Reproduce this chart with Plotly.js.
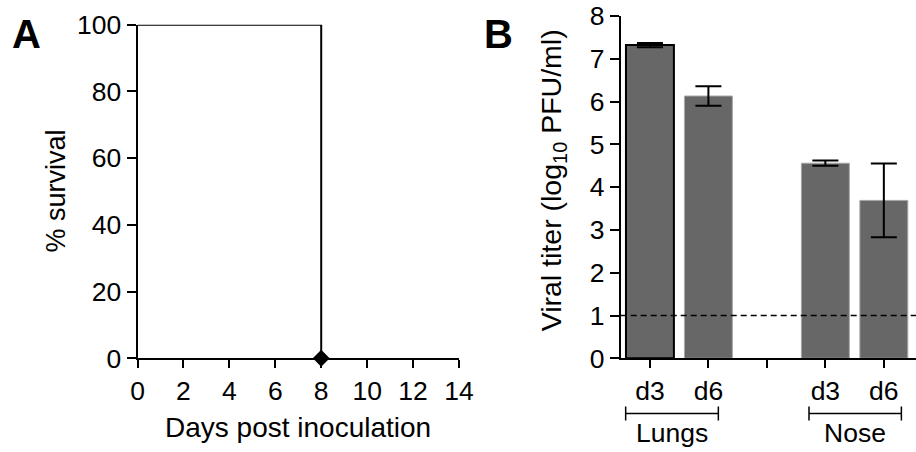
<!DOCTYPE html>
<html>
<head>
<meta charset="utf-8">
<script src="https://cdn.plot.ly/plotly-3.0.1.min.js"></script>
<style>html,body{margin:0;padding:0;background:#fff;}#chart{width:916px;height:452px;}</style>
</head>
<body>
<div id="chart"></div>
<script>
// Panel A: survival
const survivalDays = [0, 8];
const survivalPct = [100, 0];
const deathDay = [8];
const deathPct = [0];
const survivalTicks = [0, 2, 4, 6, 8, 10, 12, 14];
const survivalYTicks = [0, 20, 40, 60, 80, 100];

// Panel B: viral titer
const titerPositions = [0, 1, 3, 4];
const titerMeans = [7.32, 6.13, 4.56, 3.69];
const titerErrors = [0.05, 0.23, 0.06, 0.86];
const titerTickLabels = ['d3', 'd6', 'd3', 'd6'];
const gapTickPosition = [2];
const groupNames = ['Lungs', 'Nose'];
const groupSpans = [[-0.415, 1.17], [2.72, 4.30]];
const detectionLimit = 1;

const FONT = 'Liberation Sans, Arial, sans-serif';
const FS = 26.5;
const TFS = 28;

const traces = [
  {
    x: survivalDays, y: survivalPct, type: 'scatter', mode: 'lines',
    line: {shape: 'hv', color: '#000', width: 2},
    xaxis: 'x', yaxis: 'y', hoverinfo: 'skip', cliponaxis: false
  },
  {
    x: deathDay, y: deathPct, type: 'scatter', mode: 'markers',
    marker: {symbol: 'diamond', size: 13, color: '#000'},
    xaxis: 'x', yaxis: 'y', cliponaxis: false
  },
  {
    x: titerPositions, y: titerMeans, type: 'bar', width: 0.82,
    marker: {color: '#676767', line: {color: ['#000', '#a8a8a8', '#a8a8a8', '#a8a8a8'], width: [2, 1, 1, 1]}},
    error_y: {type: 'data', array: titerErrors, visible: true, color: '#000', thickness: 2, width: 13},
    xaxis: 'x2', yaxis: 'y2'
  }
];

const axisCommon = {
  showgrid: false, zeroline: false, showline: true, linecolor: '#000', linewidth: 2,
  ticks: 'outside', ticklen: 9, tickwidth: 2, tickcolor: '#000',
  tickfont: {family: FONT, size: FS, color: '#000'}, fixedrange: true
};

const shapes = [
  {type: 'line', xref: 'x2 domain', yref: 'y2', x0: 0, x1: 1, y0: detectionLimit, y1: detectionLimit,
   line: {color: '#000', width: 1.5, dash: '6px,4px'}}
];
const annotations = [
  {text: '<b>A</b>', xref: 'paper', yref: 'paper', x: 10 / 916, y: 1 - 34 / 452, xanchor: 'left', yanchor: 'middle', showarrow: false, font: {family: FONT, size: 40, color: '#000'}},
  {text: '<b>B</b>', xref: 'paper', yref: 'paper', x: 482 / 916, y: 1 - 34 / 452, xanchor: 'left', yanchor: 'middle', showarrow: false, font: {family: FONT, size: 40, color: '#000'}},
  {text: 'Days post inoculation', xref: 'x domain', yref: 'paper', x: 0.5, y: 1 - 427 / 452, xanchor: 'center', yanchor: 'middle', showarrow: false, font: {family: FONT, size: TFS, color: '#000'}},
  {text: '% survival', xref: 'paper', yref: 'y domain', x: 55 / 916, y: 0.5, xanchor: 'center', yanchor: 'middle', textangle: -90, showarrow: false, font: {family: FONT, size: 27, color: '#000'}},
  {text: 'Viral titer (log<sub>10</sub> PFU/ml)', xref: 'paper', yref: 'y2 domain', x: 553 / 916, y: 0.52, xanchor: 'center', yanchor: 'middle', textangle: -90, showarrow: false, font: {family: FONT, size: 28.5, color: '#000'}}
];
groupNames.forEach((name, i) => {
  const [a, b] = groupSpans[i];
  const yb = 1 - 413.5 / 452, yt = 1 - 406.5 / 452, ybt = 1 - 420.5 / 452;
  shapes.push({type: 'line', xref: 'x2', yref: 'paper', x0: a, x1: b, y0: yb, y1: yb, line: {color: '#000', width: 1.5}});
  shapes.push({type: 'line', xref: 'x2', yref: 'paper', x0: a, x1: a, y0: yt, y1: ybt, line: {color: '#000', width: 1.5}});
  shapes.push({type: 'line', xref: 'x2', yref: 'paper', x0: b, x1: b, y0: yt, y1: ybt, line: {color: '#000', width: 1.5}});
  annotations.push({text: name, xref: 'x2', yref: 'paper', x: (a + b) / 2, y: 1 - 433 / 452, xanchor: 'center', yanchor: 'middle', showarrow: false, font: {family: FONT, size: FS, color: '#000'}});
});

const layout = {
  width: 916, height: 452,
  margin: {l: 0, r: 0, t: 0, b: 0},
  paper_bgcolor: '#fff', plot_bgcolor: 'rgba(0,0,0,0)',
  showlegend: false,
  xaxis: Object.assign({}, axisCommon, {domain: [137.5 / 916, 459 / 916], range: [0, 14], tickvals: survivalTicks, ticklen: 8, anchor: 'y'}),
  yaxis: Object.assign({}, axisCommon, {domain: [1 - 358.3 / 452, 1 - 24.7 / 452], range: [0, 100], tickvals: survivalYTicks, anchor: 'x'}),
  xaxis2: Object.assign({}, axisCommon, {domain: [620.7 / 916, 1], range: [-0.5, 4.55], tickvals: titerPositions, ticktext: titerTickLabels, ticklen: 8, anchor: 'y2',
    minor: {tickvals: gapTickPosition, ticks: 'outside', ticklen: 8, tickwidth: 2, tickcolor: '#000', showgrid: false}}),
  yaxis2: Object.assign({}, axisCommon, {domain: [1 - 358.3 / 452, 1 - 16 / 452], range: [0, 8], dtick: 1, anchor: 'x2'}),
  shapes: shapes,
  annotations: annotations
};

Plotly.newPlot('chart', traces, layout, {staticPlot: true, displayModeBar: false});
</script>
</body>
</html>
